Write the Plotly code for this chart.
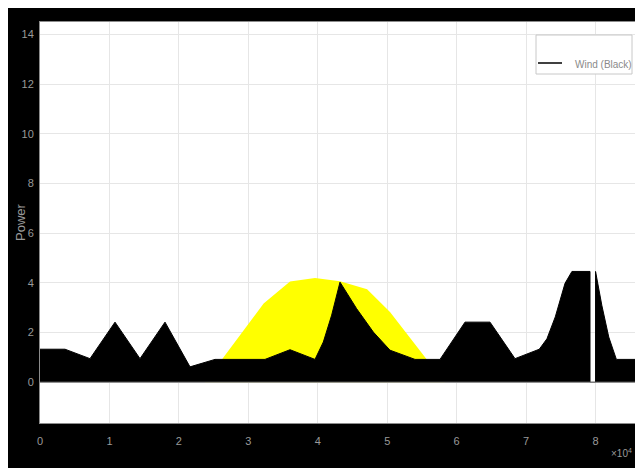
import plotly.graph_objects as go

# Time in seconds (x 10^4 shown on axis)
wind_t = [0, 3600, 7200, 10800, 14400, 18000, 21600, 25200, 32400, 36000, 39600,
          40800, 42000, 43200, 45600, 48000, 50400, 54000, 57600, 61200, 64800,
          68400, 71900, 73000, 74200, 75600, 76600, 79200, 79200, 80000, 80000,
          80900, 81900, 83000, 86400]
wind_p = [1.33, 1.33, 0.95, 2.42, 0.95, 2.42, 0.62, 0.92, 0.92, 1.31, 0.92,
          1.62, 2.70, 4.03, 2.96, 2.02, 1.29, 0.92, 0.92, 2.42, 2.42,
          0.95, 1.33, 1.75, 2.63, 3.98, 4.46, 4.46, 0.0, 0.0, 4.46,
          3.10, 1.82, 0.92, 0.92]

solar_t = [0, 23750, 32200, 36000, 39600, 43200, 47100, 50400, 55700, 58300, 86400]
solar_p = [0, 0, 3.17, 4.06, 4.20, 4.07, 3.74, 2.83, 0.92, 0, 0]

x_tickvals = [0, 10000, 20000, 30000, 40000, 50000, 60000, 70000, 80000]
x_ticktext = ["0", "1", "2", "3", "4", "5", "6", "7", "8"]
y_tickvals = [0, 2, 4, 6, 8, 10, 12, 14]

FONT = "Liberation Sans Narrow, Liberation Sans, Arial, sans-serif"
GRAY = "#9a9a9a"

# page body margin offsets the figure by 8px
OFF = 8
W, H = 633, 460
L, R, T, B = 32, 1, 14, 45
PW, PH = W - L - R, H - T - B


def px(xs):
    return (xs - OFF - L) / PW


def py(ys):
    return (H - B - (ys - OFF)) / PH


fig = go.Figure()
fig.add_trace(go.Scatter(x=solar_t, y=solar_p, mode="lines", fill="tozeroy",
                         fillcolor="#ffff00", line=dict(width=0, color="#ffff00"),
                         showlegend=False, name="Solar"))
fig.add_trace(go.Scatter(x=wind_t, y=wind_p, mode="lines", fill="tozeroy",
                         fillcolor="#000000", line=dict(width=1, color="#000000"),
                         showlegend=False, name="Wind (Black)"))

fig.update_layout(
    width=W, height=H,
    margin=dict(l=L, r=R, t=T, b=B),
    paper_bgcolor="#000000", plot_bgcolor="#ffffff",
    font=dict(family=FONT, color=GRAY, size=11),
    showlegend=False,
    xaxis=dict(range=[0, 86400], tickvals=x_tickvals, ticktext=x_ticktext,
               showgrid=True, gridcolor="#e6e6e6", gridwidth=1, automargin=False,
               zeroline=False, showline=True, linecolor="#8c8c8c", linewidth=1,
               mirror=True, ticks="", ticklabelstandoff=8,
               tickfont=dict(size=11, color=GRAY, family=FONT)),
    yaxis=dict(range=[-1.64, 14.5], tickvals=y_tickvals, automargin=False,
               showgrid=True, gridcolor="#e6e6e6", gridwidth=1,
               zeroline=True, zerolinecolor="#9a9a9a", zerolinewidth=1,
               showline=True, linecolor="#8c8c8c", linewidth=1, mirror=True,
               ticks="", ticklabelstandoff=3,
               tickfont=dict(size=11, color=GRAY, family=FONT)),
    annotations=[
        dict(text="\u00d710<sup>4</sup>", xref="paper", yref="paper",
             x=px(634), y=py(445), xanchor="right", yanchor="top",
             showarrow=False, font=dict(size=10, color=GRAY, family=FONT)),
        dict(text="Power", xref="paper", yref="paper", x=px(20), y=py(222),
             xanchor="center", yanchor="middle", textangle=-90, showarrow=False,
             font=dict(size=13, color=GRAY, family="Liberation Sans, Arial")),
        dict(text="Wind (Black)", xref="paper", yref="paper", x=px(573), y=py(64),
             xanchor="left", yanchor="middle", showarrow=False,
             font=dict(size=10, color="#8a8a8a", family=FONT)),
    ],
    shapes=[
        dict(type="line", xref="paper", yref="y", x0=0, x1=1, y0=0, y1=0,
             line=dict(width=1, color="#9a9a9a"), layer="above"),
        dict(type="rect", xref="paper", yref="paper",
             x0=px(536), x1=px(632), y0=py(74), y1=py(35),
             fillcolor="#ffffff", line=dict(width=1, color="#c8c8c8"), layer="above"),
        dict(type="line", xref="paper", yref="paper",
             x0=px(538), x1=px(562), y0=py(63), y1=py(63),
             line=dict(width=1.5, color="#000000"), layer="above"),
    ],
)

fig.write_html("out.html")
